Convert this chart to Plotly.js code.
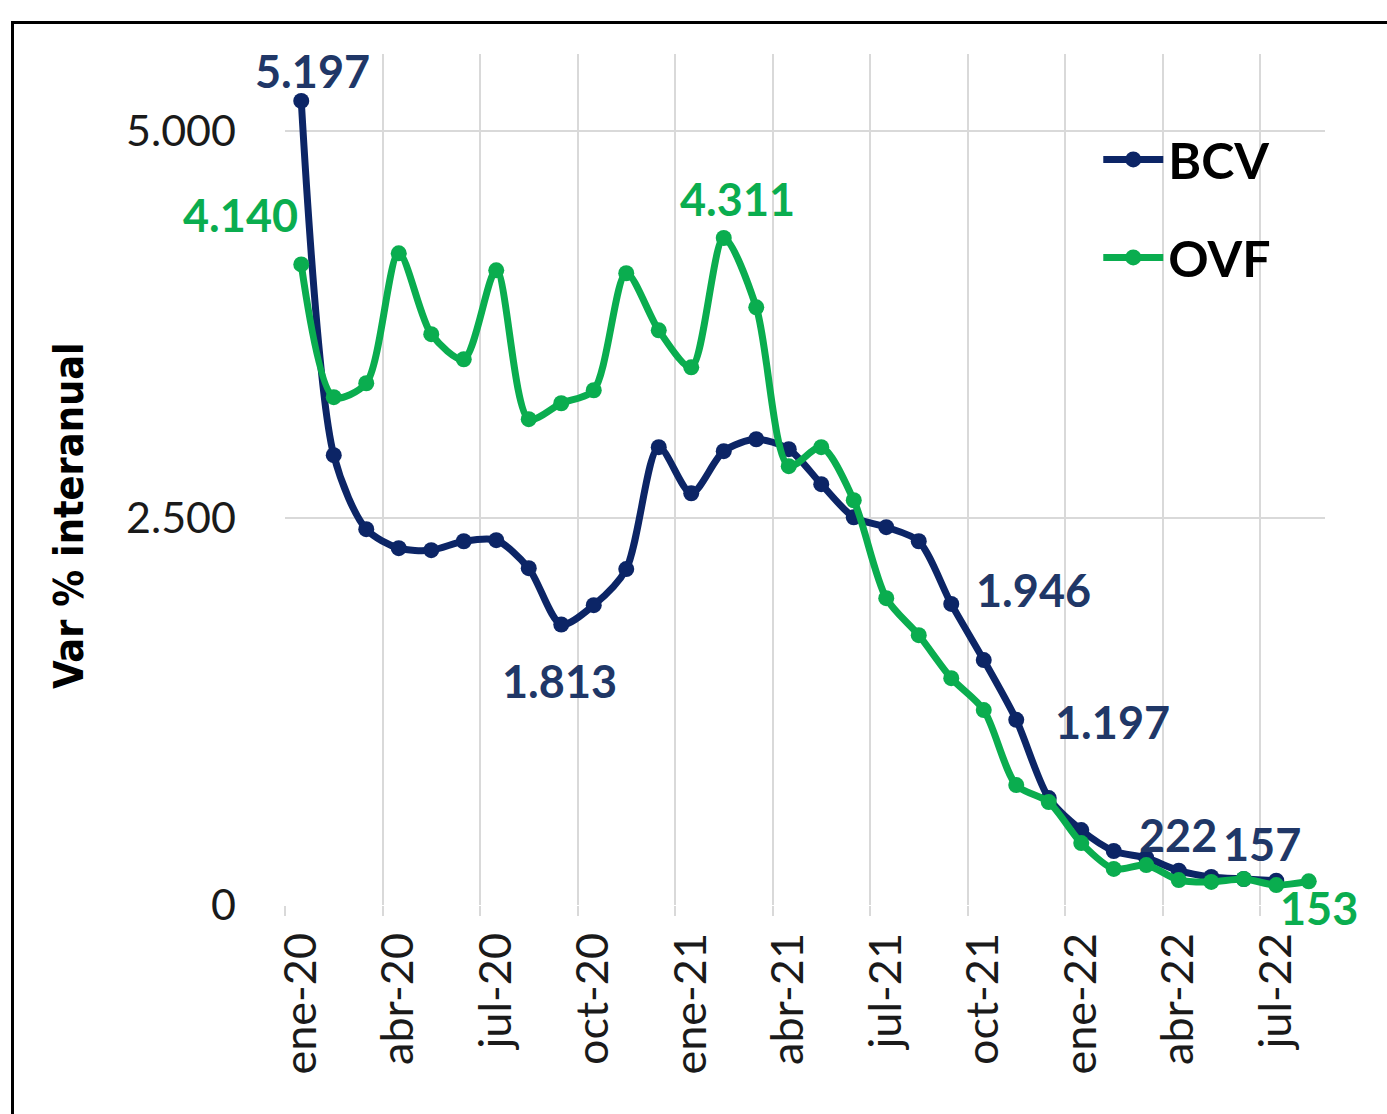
<!DOCTYPE html>
<html>
<head>
<meta charset="utf-8">
<script src="https://cdn.plot.ly/plotly-3.0.1.min.js"></script>
<style>
html,body{margin:0;padding:0;background:#fff;}
#chart{position:absolute;left:0;top:0;width:1387px;height:1114px;}
#frame{position:absolute;left:11px;top:21px;width:1400px;height:1120px;border:3px solid #000;pointer-events:none;}
</style>
</head>
<body>
<div id="chart"></div>
<div id="frame"></div>
<script>
// Data (monthly, ene-20 .. ago-22)
const months = ["ene-20","feb-20","mar-20","abr-20","may-20","jun-20","jul-20","ago-20","sep-20","oct-20","nov-20","dic-20",
                "ene-21","feb-21","mar-21","abr-21","may-21","jun-21","jul-21","ago-21","sep-21","oct-21","nov-21","dic-21",
                "ene-22","feb-22","mar-22","abr-22","may-22","jun-22","jul-22","ago-22"];
const bcv = [5197,2907,2429,2306,2293,2351,2358,2177,1813,1938,2171,2959,
             2661,2933,3010,2946,2720,2506,2442,2351,1946,1583,1197,691,
             484,349,304,222,181,168,157];
const ovf = [4140,3282,3372,4212,3689,3527,4102,3140,3243,3327,4083,3714,
             3475,4311,3863,2836,2959,2616,1983,1744,1466,1260,775,665,
             400,233,258,161,149,168,129,153];
const tickLabels = ["ene-20","abr-20","jul-20","oct-20","ene-21","abr-21","jul-21","oct-21","ene-22","abr-22","jul-22"];
const yTicks = [0,2500,5000];
const yTitle = "Var % interanual";
// labelled points
const bcvLabelMonths = ["ene-20","sep-20","sep-21","nov-21","abr-22","jul-22"];
const ovfLabelMonths = ["ene-20","feb-21","ago-22"];

const NAVY = "#0c2566";
const NAVY_TXT = "#203767";
const GREEN = "#0aad4f";

const idx = m => months.indexOf(m);
const xb = bcv.map((_, i) => i);
const xo = ovf.map((_, i) => i);
const fmt = v => v.toString().replace(/\B(?=(\d{3})+(?!\d))/g, ".");

const tickVals = tickLabels.map(l => idx(l));
const boundaries = tickVals.map(v => v - 0.5);

const traces = [
  {x: xb, y: bcv, name: "BCV", type: "scatter", mode: "lines+markers", legendgroup: "a",
   line: {color: NAVY, width: 7, shape: "spline", smoothing: 0.8},
   marker: {color: NAVY, size: 16}},
  {x: xo, y: ovf, name: "OVF", type: "scatter", mode: "lines+markers", legendgroup: "b",
   line: {color: GREEN, width: 7, shape: "spline", smoothing: 0.8},
   marker: {color: GREEN, size: 16}}
];

const labelFont = (c) => ({family: "Lato, sans-serif", size: 45, color: c, weight: 700});
const bcvShift = {"ene-20":[11,30],"sep-20":[-2,-57],"sep-21":[82,14],"nov-21":[96,-2],"abr-22":[-1,36],"jul-22":[-14,37]};
const ovfShift = {"ene-20":[-61,49],"feb-21":[14,39],"ago-22":[10,-27]};
const annotations = [];
bcvLabelMonths.forEach(m => {
  const i = idx(m);
  annotations.push({x: i, y: bcv[i], xref: "x", yref: "y", text: "<b>" + fmt(bcv[i]) + "</b>", showarrow: false,
    xshift: bcvShift[m][0], yshift: bcvShift[m][1], font: labelFont(NAVY_TXT)});
});
ovfLabelMonths.forEach(m => {
  const i = idx(m);
  annotations.push({x: i, y: ovf[i], xref: "x", yref: "y", text: "<b>" + fmt(ovf[i]) + "</b>", showarrow: false,
    xshift: ovfShift[m][0], yshift: ovfShift[m][1], font: labelFont(GREEN)});
});
// y-axis title (placed as rotated text, slightly below the plot centre as in the original)
annotations.push({xref: "paper", yref: "paper", x: -0.207, y: 0.458, text: "<b>" + yTitle + "</b>",
  textangle: -90, showarrow: false, xanchor: "center", yanchor: "middle",
  font: {family: "Liberation Sans Narrow, DejaVu Sans Condensed, sans-serif", size: 41, color: "#000"}});

const layout = {
  width: 1387, height: 1114,
  margin: {l: 285, r: 62, t: 54, b: 209},
  paper_bgcolor: "rgba(0,0,0,0)",
  plot_bgcolor: "#fff",
  separators: ",.",
  showlegend: true,
  legend: {x: 0.782, y: 0.922, xanchor: "left", yanchor: "top", bgcolor: "rgba(255,255,255,0)",
           font: {family: "Lato, sans-serif", size: 50, color: "#000", weight: 700},
           tracegroupgap: 30, itemwidth: 60},
  xaxis: {
    range: [-0.5, months.length - 0.5],
    tickmode: "array", tickvals: tickVals, ticktext: tickLabels,
    tickangle: -90, showgrid: false, zeroline: false, showline: false,
    ticks: "", ticklabelstandoff: 18,
    tickfont: {family: "Lato, sans-serif", size: 45, color: "#1a1a1a"},
    minor: {tickmode: "array", tickvals: boundaries, showgrid: true, gridcolor: "#d9d9d9", gridwidth: 2,
            ticks: "outside", ticklen: 10, tickcolor: "#d9d9d9", tickwidth: 2}
  },
  yaxis: {
    range: [0, 5500],
    tickmode: "array", tickvals: yTicks, tickformat: ",d",
    showgrid: true, gridcolor: "#d9d9d9", gridwidth: 2,
    zeroline: false, showline: false, ticks: "", ticklabelstandoff: 48,
    tickfont: {family: "Lato, sans-serif", size: 43, color: "#1a1a1a"}
  },
  annotations: annotations
};

Plotly.newPlot("chart", traces, layout, {displayModeBar: false, staticPlot: true});
</script>
</body>
</html>
